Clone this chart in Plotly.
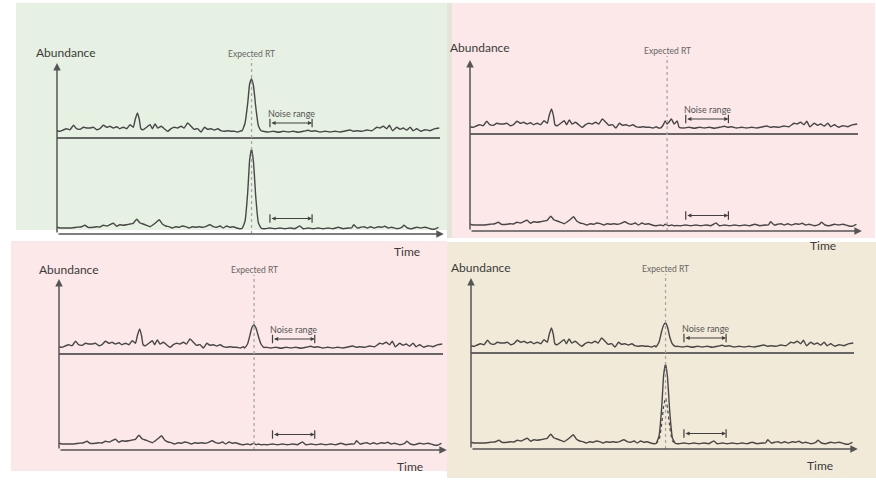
import plotly.graph_objects as go

# ---------------- data (time 0..100, abundance in arbitrary units) ----------------
# shared baseline noise of the upper chromatogram (left and right of the RT window)
UP_LEFT_X = [0, 0.8, 1.6, 2.5, 3.4, 4.3, 5.1, 6.0, 6.9, 7.8, 8.6, 9.5, 10.4, 11.2, 12.1,
             13.0, 13.8, 14.7, 15.6, 16.4, 17.3, 18.2, 19.1, 19.9, 20.4, 21.0, 21.5, 21.9,
             22.5, 23.4, 24.3, 24.9, 25.6, 26.3, 27.2, 28.0, 28.9, 29.8, 30.6, 31.5, 32.4,
             33.2, 34.1, 35.0, 35.8, 36.7, 37.6, 38.5, 39.3, 40.2, 41.1, 42.0, 42.8, 43.7,
             44.6, 45.4, 46.3, 47.2, 48.0]
UP_LEFT_Y = [7.3, 6.7, 8, 9.3, 8.3, 12.7, 9.3, 8.7, 10.7, 10, 10, 10.7, 8.3, 9.3, 12.7,
             10.7, 11.7, 10, 11.3, 9.3, 10.7, 9.3, 13.3, 10.7, 18.3, 25, 18.3, 9.3,
             8.3, 10.7, 13.3, 9.3, 14, 10, 11.7, 9.3, 6.7, 9.3, 10.7, 10, 11.7,
             10, 15, 11.7, 8.7, 9.3, 6, 10.7, 8.7, 9.3, 8, 9.3, 7.3, 6.7,
             7.3, 6.7, 6.7, 6, 7.3]
UP_RIGHT_X = [53.9, 55.2, 56.5, 57.8, 59.1, 60.4, 61.7, 63.0, 64.3, 65.6, 66.5, 67.4, 68.7,
              70.0, 71.3, 72.6, 73.9, 75.2, 76.5, 77.4, 78.3, 79.6, 80.9, 82.2, 83.5, 84.3,
              85.2, 86.1, 86.8, 87.6, 88.7, 89.6, 90.4, 91.3, 92.2, 93.0, 93.9, 95.0, 96.1,
              97.4, 98.7, 99.8]
UP_RIGHT_Y = [6.7, 6, 6.7, 5.7, 6.7, 6, 6.7, 5.7, 6.7, 7.7, 6.7, 7.3, 6,
              6.7, 6, 6.7, 6, 7, 8, 6.7, 7.3, 6.7, 8, 7.3, 10.7, 10,
              11.7, 9.3, 12.7, 7.3, 10.7, 8.7, 10, 8, 10.7, 7.3, 9.3, 6.7, 8.3,
              7.3, 9.3, 10]

# shared baseline noise of the lower chromatogram
LO_LEFT_X = [0, 0.8, 2.1, 3.8, 5.1, 6.4, 7.3, 8.1, 9.5, 10.4, 11.2, 12.1, 13.0, 13.8, 14.7,
             15.6, 16.4, 17.3, 18.2, 19.1, 19.9, 20.8, 21.7, 22.5, 23.4, 24.3, 25.1, 26.0,
             26.7, 27.5, 28.4, 29.2, 30.1, 31.0, 31.9, 32.7, 33.6, 34.5, 35.3, 36.2, 37.1,
             37.9, 38.8, 39.9, 40.8, 41.7, 42.6, 43.4, 44.3, 45.1, 46.0, 46.9, 47.8]
LO_LEFT_Y = [6.7, 6, 6, 6, 6.7, 7.3, 8.7, 6.7, 6.7, 7.3, 7, 8.7, 8, 9.3, 10.7,
             7.7, 9.3, 8.7, 9.3, 10, 10.7, 14.7, 11, 10, 8.7, 7.3, 9.3, 12,
             14.3, 10, 8, 7.3, 6, 7.3, 6.7, 8, 7.3, 6, 7.3, 6.7, 7.3,
             6.7, 7.3, 9.3, 7.3, 6.7, 8, 6, 8, 6.7, 7.3, 6, 5.3]
LO_RIGHT_X = [54.3, 55.6, 56.9, 58.2, 59.5, 60.8, 62.1, 63.4, 64.3, 65.6, 66.9, 68.2, 69.5,
              70.8, 72.1, 73.4, 74.7, 76.1, 76.9, 77.5, 78.4, 79.3, 80.2, 81.0, 81.9, 82.8,
              83.9, 84.8, 85.6, 86.5, 87.4, 88.7, 90.0, 90.6, 91.5, 92.6, 93.9, 95.0, 96.1,
              97.4, 98.4, 99.6]
LO_RIGHT_Y = [5.3, 6, 5.3, 6, 5.3, 6, 5.3, 8, 5.3, 6, 5.3, 6, 5.3,
              6, 5.3, 6.7, 5.3, 6, 6, 9.3, 6, 6.7, 7.3, 6, 7.3, 6,
              7.3, 6.7, 7.7, 6, 6.7, 5.3, 6.7, 8.7, 6, 5.3, 6.7, 6, 6.7,
              5.3, 4.7, 6.7]

# RT window samples and per-panel signal in that window
PEAK_X = [48.3, 49.1, 49.8, 50.3, 50.8, 51.3, 51.9, 52.6, 53.4]
UPPER_PEAKS = [
    [7, 15, 35, 54, 59, 52, 31, 12, 7],           # panel 1
    [6.5, 6, 9, 13, 10, 12, 15, 10, 13],          # panel 2
    [6, 10, 20, 27, 29, 26, 18, 10, 6.5],         # panel 3
    [6, 11, 22, 28, 30, 26, 16, 9, 6.5],          # panel 4
]
LOWER_PEAKS = [
    [5.5, 13, 42, 74, 85, 72, 37, 11, 5.5],
    [5.5, 6, 5.3, 6.7, 6, 5.3, 6, 5.3, 5.5],
    [5.5, 6, 5.3, 6, 6.7, 5.3, 6, 5.3, 5.5],
    [5.5, 13, 42, 74, 85, 72, 37, 11, 5.5],
]
LOWER_DASHED_PEAK_P4 = [5.5, 9, 25, 43, 51, 41, 22, 8, 5.5]

EXPECTED_RT = 50.8
NOISE_RANGE = [55.6, 66.6]
SEPARATOR = [96, 97, 96, 96]

# ---------------- layout geometry (pixels) ----------------
W, H = 876, 482
PANELS = [dict(X0=57, X1=440, Y0=234), dict(X0=470, X1=858, Y0=231),
          dict(X0=59, X1=443, Y0=450), dict(X0=471, X1=854, Y0=449)]
BACKS = [  # x0, x1, y0, y1 (px), colour
    (16, 447, 3, 230, "#e7f1e3"),
    (447, 452, 3, 238, "#e6e3d9"),
    (452, 875, 3, 238, "#fce8e8"),
    (11, 447, 241, 471, "#fce8e8"),
    (447, 876, 242, 478, "#f2ead8"),
]
ABUND_POS = [(66, 52), (480, 48), (69, 269), (481, 267)]
TIME_POS = [(407, 251), (823, 246), (410, 466), (820, 465)]

FONT = "Lato, 'Open Sans', sans-serif"
LINE_C = "#474747"
AX_C = "#555555"


def fx(px):
    return px / W


def fy(py):
    return 1 - py / H


fig = go.Figure()
shapes, annos = [], []
for (x0, x1, y0, y1, c) in BACKS:
    shapes.append(dict(type="rect", xref="paper", yref="paper", x0=fx(x0), x1=fx(x1),
                       y0=fy(y1), y1=fy(y0), fillcolor=c, line=dict(width=0), layer="below"))

layout_axes = {}
for i, p in enumerate(PANELS):
    n = "" if i == 0 else str(i + 1)
    xa, ya = "x" + n, "y" + n
    sx = (p["X1"] - p["X0"]) / 100.0
    layout_axes["xaxis" + n] = dict(domain=[fx(p["X0"] - 3 * sx), fx(p["X0"] + 103 * sx)],
                                    range=[-3, 103], visible=False, fixedrange=True,
                                    anchor=ya)
    layout_axes["yaxis" + n] = dict(domain=[fy(p["Y0"] + 5), fy(p["Y0"] - 190)],
                                    range=[-5, 190], visible=False, fixedrange=True,
                                    anchor=xa)
    sep = SEPARATOR[i]
    ux = UP_LEFT_X + PEAK_X + UP_RIGHT_X
    uy = [sep + v for v in UP_LEFT_Y + UPPER_PEAKS[i] + UP_RIGHT_Y]
    lx = LO_LEFT_X + PEAK_X + LO_RIGHT_X
    ly = LO_LEFT_Y + LOWER_PEAKS[i] + LO_RIGHT_Y
    fig.add_trace(go.Scatter(x=ux, y=uy, mode="lines", xaxis=xa, yaxis=ya,
                             line=dict(color=LINE_C, width=1.4, shape="spline", smoothing=0.5),
                             showlegend=False, hoverinfo="skip"))
    fig.add_trace(go.Scatter(x=lx, y=ly, mode="lines", xaxis=xa, yaxis=ya,
                             line=dict(color=LINE_C, width=1.4, shape="spline", smoothing=0.5),
                             showlegend=False, hoverinfo="skip"))
    if i == 3:
        fig.add_trace(go.Scatter(x=PEAK_X, y=LOWER_DASHED_PEAK_P4, mode="lines", xaxis=xa,
                                 yaxis=ya, line=dict(color=LINE_C, width=1.2, dash="dot",
                                                     shape="spline", smoothing=0.5),
                                 showlegend=False, hoverinfo="skip"))
    # noise range end ticks + double arrow
    for yy in (sep + 15, 15.5):
        fig.add_trace(go.Scatter(x=NOISE_RANGE, y=[yy, yy], mode="markers", xaxis=xa, yaxis=ya,
                                 marker=dict(symbol="line-ns", size=6,
                                             line=dict(color="#404040", width=1.2)),
                                 showlegend=False, hoverinfo="skip"))
        annos.append(dict(xref=xa, yref=ya, axref=xa, ayref=ya, x=NOISE_RANGE[1], y=yy,
                          ax=NOISE_RANGE[0], ay=yy, showarrow=True, arrowside="end+start",
                          arrowhead=2, arrowsize=0.7, arrowwidth=1.2, arrowcolor="#404040",
                          text=""))
    # separator line
    shapes.append(dict(type="line", xref=xa, yref=ya, x0=0, x1=100, y0=sep, y1=sep,
                       line=dict(color="#666666", width=2)))
    # expected RT dashed line
    shapes.append(dict(type="line", xref=xa, yref=ya, x0=EXPECTED_RT, x1=EXPECTED_RT,
                       y0=0, y1=175, line=dict(color="#a6a6a6", width=1.3, dash="dot")))
    # axes with arrows
    annos.append(dict(xref=xa, yref=ya, axref=xa, ayref=ya, x=0, y=171, ax=0, ay=0,
                      showarrow=True, arrowhead=2, arrowsize=1, arrowwidth=1.5,
                      arrowcolor=AX_C, text=""))
    annos.append(dict(xref=xa, yref=ya, axref=xa, ayref=ya, x=101, y=0, ax=0, ay=0,
                      showarrow=True, arrowhead=2, arrowsize=1, arrowwidth=1.5,
                      arrowcolor=AX_C, text=""))
    # labels
    annos.append(dict(xref=xa, yref=ya, x=EXPECTED_RT, y=180, text="Expected RT",
                      xanchor="center", yanchor="middle",
                      showarrow=False, font=dict(family=FONT, size=8.5, color="#666666")))
    annos.append(dict(xref=xa, yref=ya, x=sum(NOISE_RANGE) / 2, y=sep + 25, text="Noise range",
                      xanchor="center", yanchor="middle",
                      showarrow=False, font=dict(family=FONT, size=9, color="#555555")))
    ax_, ay_ = ABUND_POS[i]
    annos.append(dict(xref="paper", yref="paper", x=fx(ax_), y=fy(ay_), text="Abundance",
                      xanchor="center", yanchor="middle",
                      showarrow=False, font=dict(family=FONT, size=12, color="#3a3a3a")))
    tx, ty = TIME_POS[i]
    annos.append(dict(xref="paper", yref="paper", x=fx(tx), y=fy(ty), text="Time",
                      xanchor="center", yanchor="middle",
                      showarrow=False, font=dict(family=FONT, size=12, color="#3a3a3a")))

fig.update_layout(width=W, height=H, margin=dict(l=0, r=0, t=0, b=0),
                  paper_bgcolor="white", plot_bgcolor="rgba(0,0,0,0)",
                  shapes=shapes, annotations=annos, showlegend=False, **layout_axes)
fig.write_html("out.html", config={"displayModeBar": False},
               post_script="document.body.style.margin='0';document.body.style.overflow='hidden';")
